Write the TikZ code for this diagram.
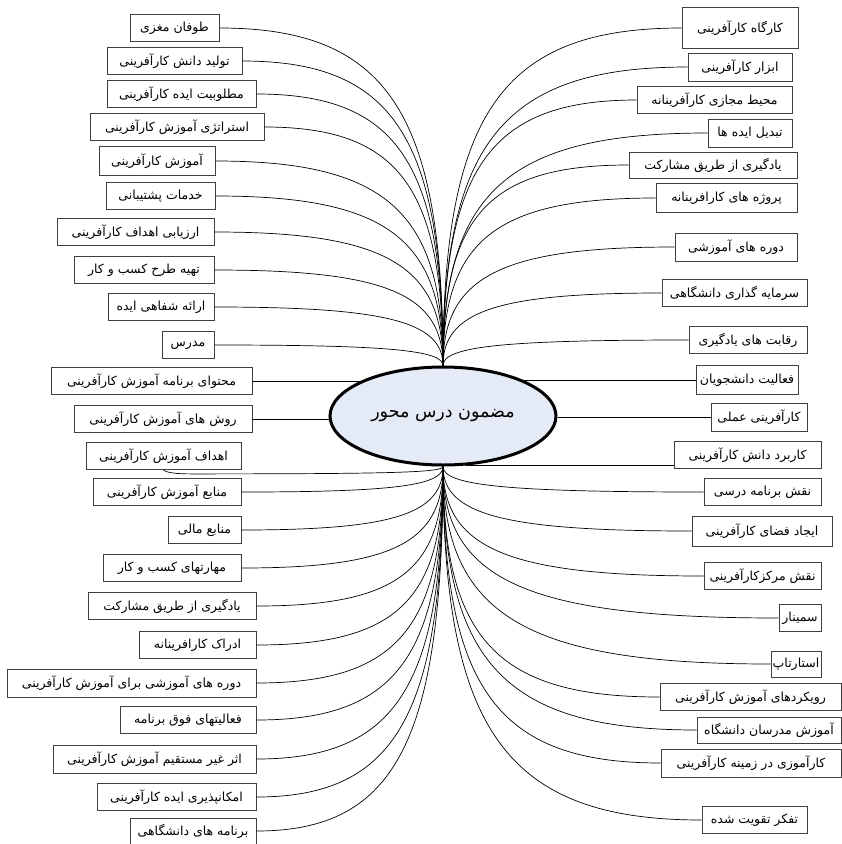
\documentclass[tikz,border=0pt]{standalone}
\usepackage{fontspec}
\usepackage{tikz}
\usetikzlibrary{shapes.geometric, calc}
\TeXXeTstate=1
\newfontfamily\arabicfont[Script=Arabic]{DejaVu Sans}
\newcommand{\fa}[1]{\beginR #1\endR}
% shakhe: horizontal start, vertical end
\newcommand{\shakhe}[2]{\draw [rabt] (#1) .. controls ($(#1)!.75!(#1 -| #2)$) and ($(#2)!.75!(#1 -| #2)$) .. (#2);}
\definecolor{fondo}{RGB}{228,234,246}
\tikzstyle{mozu} = [draw=black!75, line width=0.8pt, rectangle, fill=white, minimum height=27pt, inner sep=1pt, font=\arabicfont\fontsize{12.5}{14}\selectfont]
\tikzstyle{mehvar} = [draw=black, fill=fondo, line width=3pt, ellipse, minimum width=226pt, minimum height=98pt, inner sep=0pt, font=\arabicfont\fontsize{17.5}{20}\selectfont]
\tikzstyle{rabt} = [black, line width=0.7pt]

\begin{document}
\begin{tikzpicture}[x=1pt, y=-1pt]
	\useasboundingbox (0,0) rectangle (842,844);
	\node [mehvar] (markaz) at (443,416) {\fa{مضمون درس محور}};
	% left column
	\node [mozu, minimum width=89pt] (l1) at (174.5,28) {\fa{طوفان مغزی}};
	\node [mozu, minimum width=135pt] (l2) at (174.5,61) {\fa{تولید دانش کارآفرینی}};
	\node [mozu, minimum width=149pt] (l3) at (181.5,94) {\fa{مطلوبیت ایده کارآفرینی}};
	\node [mozu, minimum width=174pt] (l4) at (177,127) {\fa{استراتژی آموزش کارآفرینی}};
	\node [mozu, minimum width=116pt, minimum height=29pt] (l5) at (157,161) {\fa{آموزش کارآفرینی}};
	\node [mozu, minimum width=109pt] (l6) at (160.5,196) {\fa{خدمات  پشتیبانی}};
	\node [mozu, minimum width=157pt] (l7) at (135.5,232) {\fa{ارزیابی اهداف کارآفرینی}};
	\node [mozu, minimum width=140pt] (l8) at (144,270) {\fa{تهیه طرح کسب و کار}};
	\node [mozu, minimum width=106pt] (l9) at (161,307) {\fa{ارائه شفاهی ایده}};
	\node [mozu, minimum width=52pt] (l10) at (188,345) {\fa{مدرس}};
	\node [mozu, minimum width=201pt] (l11) at (151.5,381) {\fa{محتوای برنامه آموزش کارآفرینی}};
	\node [mozu, minimum width=178pt] (l12) at (163,419) {\fa{روش های آموزش کارآفرینی}};
	\node [mozu, minimum width=155pt] (l13) at (163.5,456) {\fa{اهداف آموزش کارآفرینی}};
	\node [mozu, minimum width=148pt] (l14) at (167,492) {\fa{منابع آموزش کارآفرینی}};
	\node [mozu, minimum width=73pt] (l15) at (204.5,530) {\fa{منابع مالی}};
	\node [mozu, minimum width=138pt] (l16) at (172,568) {\fa{مهارتهای کسب و کار}};
	\node [mozu, minimum width=168pt] (l17) at (172,606) {\fa{یادگیری از طریق مشارکت}};
	\node [mozu, minimum width=117pt] (l18) at (197.5,645) {\fa{ادراک کارافرینانه}};
	\node [mozu, minimum width=249pt, minimum height=28pt] (l19) at (131.5,683) {\fa{دوره های آموزشی برای آموزش کارآفرینی}};
	\node [mozu, minimum width=136pt] (l20) at (188,720) {\fa{فعالیتهای فوق  برنامه}};
	\node [mozu, minimum width=203pt, minimum height=28pt] (l21) at (154.5,759) {\fa{اثر غیر مستقیم آموزش کارآفرینی}};
	\node [mozu, minimum width=159pt] (l22) at (176.5,797) {\fa{امکانپذیری ایده کارآفرینی}};
	\node [mozu, minimum width=126pt, minimum height=26pt] (l23) at (193,831) {\fa{برنامه های دانشگاهی}};
	% right column
	\node [mozu, minimum width=116pt, minimum height=41pt] (r1) at (740,28) {\fa{کارگاه  کارآفرینی}};
	\node [mozu, minimum width=104pt, minimum height=28pt] (r2) at (740,67) {\fa{ابزار کارآفرینی}};
	\node [mozu, minimum width=155pt] (r3) at (714.5,100) {\fa{محیط مجازی کارآفرینانه}};
	\node [mozu, minimum width=84pt, minimum height=28pt] (r4) at (750,133) {\fa{تبدیل ایده ها}};
	\node [mozu, minimum width=168pt, minimum height=26pt] (r5) at (713,165) {\fa{یادگیری از طریق مشارکت}};
	\node [mozu, minimum width=141pt, minimum height=29pt] (r6) at (726.5,198) {\fa{پروژه های کارافرینانه}};
	\node [mozu, minimum width=122pt, minimum height=28pt] (r7) at (736,247) {\fa{دوره های آموزشی}};
	\node [mozu, minimum width=145pt] (r8) at (734.5,293) {\fa{سرمایه گذاری دانشگاهی}};
	\node [mozu, minimum width=118pt] (r9) at (748,340) {\fa{رقابت های یادگیری}};
	\node [mozu, minimum width=102pt, minimum height=29pt] (r10) at (747,380) {\fa{فعالیت دانشجویان}};
	\node [mozu, minimum width=96pt, minimum height=28pt] (r11) at (759,417) {\fa{کارآفرینی عملی}};
	\node [mozu, minimum width=147pt] (r12) at (747.5,455) {\fa{کاربرد دانش کارآفرینی}};
	\node [mozu, minimum width=117pt] (r13) at (762.5,492) {\fa{نقش برنامه درسی}};
	\node [mozu, minimum width=140pt, minimum height=30pt] (r14) at (762,531) {\fa{ایجاد فضای کارآفرینی}};
	\node [mozu, minimum width=117pt] (r15) at (762.5,576) {\fa{نقش مرکزکارآفرینی}};
	\node [mozu, minimum width=42pt] (r16) at (800,618) {\fa{سمینار}};
	\node [mozu, minimum width=50pt, minimum height=26pt] (r17) at (796,664) {\fa{استارتاپ}};
	\node [mozu, minimum width=181pt] (r18) at (750.5,697) {\fa{رویکردهای آموزش کارآفرینی}};
	\node [mozu, minimum width=144pt, minimum height=26pt] (r19) at (769,730) {\fa{آموزش مدرسان دانشگاه}};
	\node [mozu, minimum width=180pt, minimum height=28pt] (r20) at (751,763) {\fa{کارآموزی در زمینه کارآفرینی}};
	\node [mozu, minimum width=105pt] (r21) at (754.5,820) {\fa{تفکر تقویت شده}};
	% branches into the top
	\shakhe{l1.east}{markaz.north} \shakhe{l2.east}{markaz.north}
	\shakhe{l3.east}{markaz.north} \shakhe{l4.east}{markaz.north}
	\shakhe{l5.east}{markaz.north} \shakhe{l6.east}{markaz.north}
	\shakhe{l7.east}{markaz.north} \shakhe{l8.east}{markaz.north}
	\shakhe{l9.east}{markaz.north} \shakhe{l10.east}{markaz.north}
	\shakhe{r1.west}{markaz.north} \shakhe{r2.west}{markaz.north}
	\shakhe{r3.west}{markaz.north} \shakhe{r4.west}{markaz.north}
	\shakhe{r5.west}{markaz.north} \shakhe{r6.west}{markaz.north}
	\shakhe{r7.west}{markaz.north} \shakhe{r8.west}{markaz.north}
	\shakhe{r9.west}{markaz.north}
	% straight ones into the sides
	\draw [rabt] (l11.east) -- (l11.east -| markaz.156);
	\draw [rabt] (l12.east) -- (l12.east -| markaz.west);
	\draw [rabt] (r10.west) -- (r10.west -| markaz.24);
	\draw [rabt] (r11.west) -- (r11.west -| markaz.east);
	\draw [rabt] (r12.west |- markaz.-65) -- (markaz.-65);
	\draw [rabt] (l13.south) .. controls +(3,3) and +(-14,0) .. ++(28,4) .. controls +(200,0) and +(0,6) .. (markaz.south);
	% branches into the bottom
	\shakhe{l14.east}{markaz.south} \shakhe{l15.east}{markaz.south}
	\shakhe{l16.east}{markaz.south} \shakhe{l17.east}{markaz.south}
	\shakhe{l18.east}{markaz.south} \shakhe{l19.east}{markaz.south}
	\shakhe{l20.east}{markaz.south} \shakhe{l21.east}{markaz.south}
	\shakhe{l22.east}{markaz.south} \shakhe{l23.east}{markaz.south}
	\shakhe{r13.west}{markaz.south} \shakhe{r14.west}{markaz.south}
	\shakhe{r15.west}{markaz.south} \shakhe{r16.west}{markaz.south}
	\shakhe{r17.west}{markaz.south} \shakhe{r18.west}{markaz.south}
	\shakhe{r19.west}{markaz.south} \shakhe{r20.west}{markaz.south}
	\shakhe{r21.west}{markaz.south}
\end{tikzpicture}
\end{document}
